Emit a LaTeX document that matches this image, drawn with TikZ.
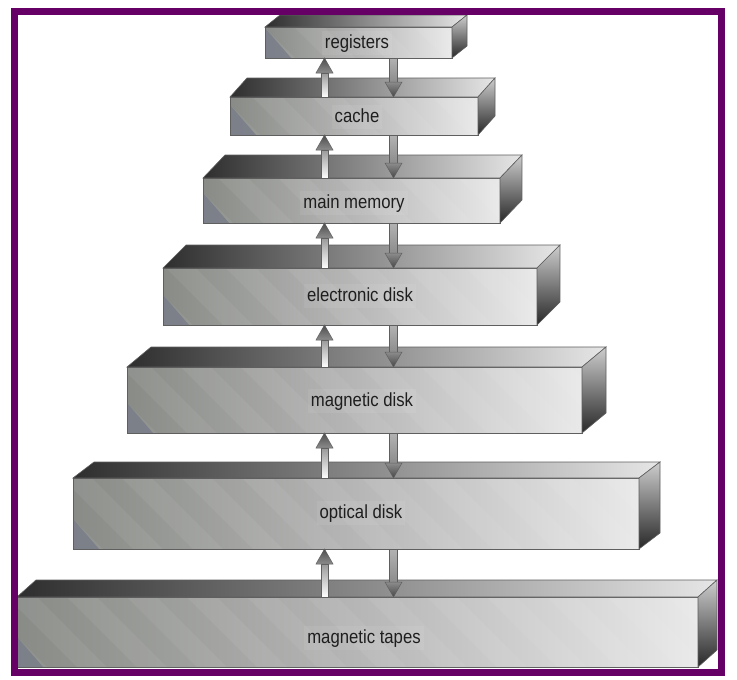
\documentclass[tikz,border=0pt]{standalone}
\usepackage{fontspec}
\newfontfamily\labfont[FakeStretch=0.88]{Liberation Sans}
\usetikzlibrary{calc}

\definecolor{framepurple}{RGB}{102,0,102}
\definecolor{frontL}{RGB}{136,139,134}
\definecolor{frontM}{RGB}{182,182,182}
\definecolor{frontR}{RGB}{233,233,233}
\definecolor{topL}{RGB}{46,46,46}
\definecolor{topR}{RGB}{230,230,230}
\definecolor{sideT}{RGB}{205,205,205}
\definecolor{sideB}{RGB}{40,40,40}
\definecolor{edge}{RGB}{95,95,95}
\definecolor{bluecorner}{RGB}{118,122,136}
\definecolor{labtext}{RGB}{30,30,30}

\tikzset{
  front/.style={shape=rectangle, inner sep=0pt, outer sep=0pt,
    draw=edge, line width=0.6pt,
    left color=frontL, right color=frontR, middle color=frontM,
    path picture={
      % soft diagonal sheen bands across the front face
      \foreach \k in {0,3,...,45}{
        \fill[white, opacity=0.06]
          ([xshift=\k*20pt]path picture bounding box.south west)
          -- ++(30pt,0pt) -- ++(-80pt,80pt) -- ++(-30pt,0pt) -- cycle;
      }
      \fill[bluecorner, opacity=0.75] (path picture bounding box.south west)
        -- ++(26pt,0pt) -- ++(-26pt,30pt) -- cycle;
    }},
  topface/.style={draw=edge, line width=0.6pt, left color=topL, right color=topR},
  sideface/.style={draw=edge, line width=0.6pt, top color=sideT, bottom color=sideB},
  lab/.style={font=\labfont\fontsize{19}{19}\selectfont, text=labtext,
    text height=14pt, text depth=4pt, inner sep=3pt,
    fill=white, fill opacity=0.07, text opacity=1},
  upshaft/.style={draw=edge, line width=0.5pt, top color=gray!80, bottom color=white},
  uphead/.style={draw=edge, line width=0.5pt, top color=black!70, bottom color=black!45},
  dnshaft/.style={draw=edge, line width=0.5pt, top color=black!30, bottom color=black!45},
  dnhead/.style={draw=edge, line width=0.5pt, top color=black!45, bottom color=black!72},
}

% one storage level: name, left x, right x, top y, bottom y, depth dx, depth dy, label, label position
\newcommand\tier[9]{%
  \node[front, minimum width={(#3-#2)*1pt}, minimum height={(#5-#4)*1pt}]
    (#1) at ({(#2+#3)/2},{(#4+#5)/2}) {};
  \shade[topface] (#1.north west) -- ++(#6,#7) -- ++({#3-#2},0) -- (#1.north east) -- cycle;
  \shade[sideface] (#1.north east) -- ++(#6,#7) -- ++(0,{#5-#4}) -- (#1.south east) -- cycle;
  \node[lab] (#1-t) at #9 {#8};
}

% block arrows between two levels
\newcommand\uparrowshape[2]{%
  \shade[upshaft] ($(#1)+(-3.5,0)$) rectangle ($(#2)+(3.5,15)$);
  \shade[uphead] (#2) -- ($(#2)+(-8.5,15)$) -- ($(#2)+(8.5,15)$) -- cycle;
}
\newcommand\downarrowshape[2]{%
  \shade[dnshaft] ($(#1)+(-4,0)$) rectangle ($(#2)+(4,-15)$);
  \shade[dnhead] (#2) -- ($(#2)+(-8.5,-15)$) -- ($(#2)+(8.5,-15)$) -- cycle;
}

\begin{document}
\begin{tikzpicture}[x=1pt, y=-1pt]
  \useasboundingbox (0,0) rectangle (737,680);
  \fill[white] (0,0) rectangle (737,680);

  \tier{registers}{265}{452}{27}{58}{15}{-12}{registers}{(357,43)}
  \tier{cache}{230}{478}{97}{135}{17}{-19}{cache}{(357,117)}
  \tier{mainmem}{203}{500}{178}{223}{22}{-23}{main memory}{(354,203)}
  \tier{edisk}{163}{537}{268}{325}{23}{-23}{electronic disk}{(360,296)}
  \tier{mdisk}{127}{582}{367}{433}{24}{-20}{magnetic disk}{(362,401)}
  \tier{odisk}{73}{639}{478}{549}{21}{-16}{optical disk}{(361,513)}
  \tier{tapes}{17}{698}{597}{667}{19}{-17}{magnetic tapes}{(364,638)}

  \coordinate (upx) at (324.5,0);
  \coordinate (dnx) at (393.5,0);

  \foreach \hi/\lo in {registers/cache, cache/mainmem, mainmem/edisk,
                       edisk/mdisk, mdisk/odisk, odisk/tapes}{
    \path (upx |- \lo.north) coordinate (ua) (upx |- \hi.south) coordinate (ub);
    \uparrowshape{ua}{ub}
    \path (dnx |- \hi.south) coordinate (da) (dnx |- \lo.north) coordinate (db);
    \downarrowshape{da}{db}
  }

  % outer frame
  \draw[framepurple, line width=7pt] (14.5,11.5) rectangle (721.5,672.5);
\end{tikzpicture}
\end{document}
